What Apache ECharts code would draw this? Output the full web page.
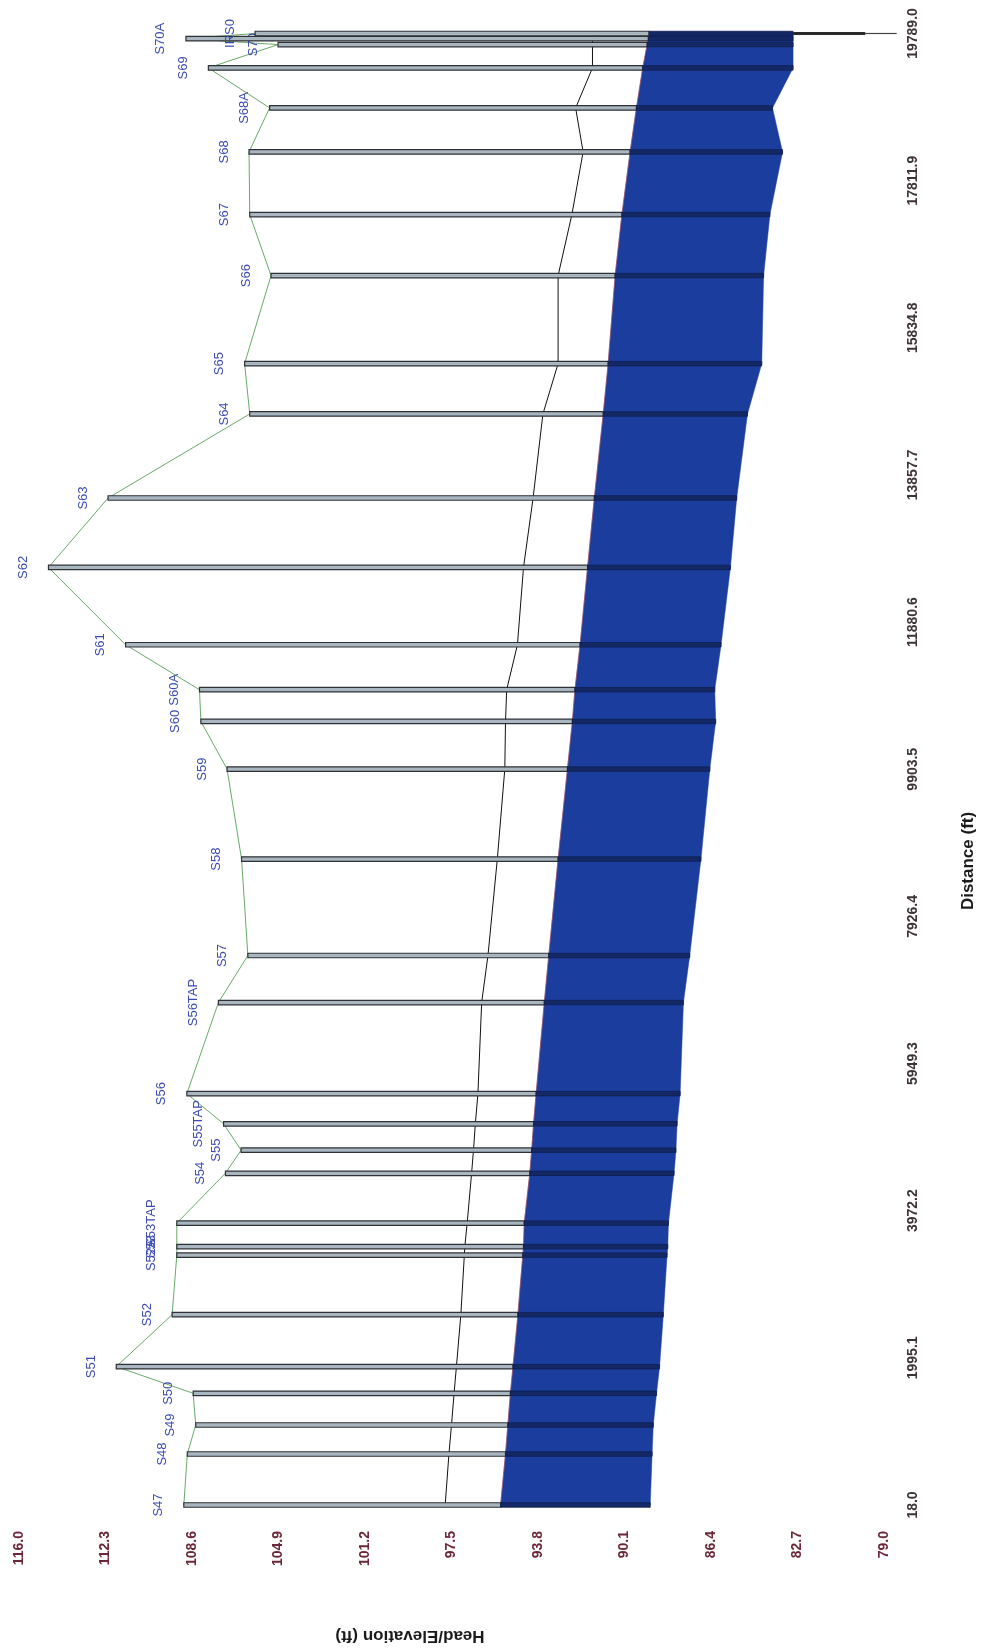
<!DOCTYPE html>
<html>
<head>
<meta charset="utf-8">
<title>Profile</title>
<script src="https://cdn.jsdelivr.net/npm/echarts@6.0.0/dist/echarts.min.js"></script>
<style>
  html, body { margin: 0; padding: 0; background: #fff; }
  #chart { width: 984px; height: 1650px; }
</style>
</head>
<body>
<div id="chart"></div>
<script>
// node data (distance in ft, elevations in ft)
const nodeNames = ['S47','S48','S49','S50','S51','S52','S52A','S53','S53TAP','S54','S55','S55TAP','S56','S56TAP','S57','S58','S59','S60','S60A','S61','S62','S63','S64','S65','S66','S67','S68','S68A','S69','S70','S70A','IRS0']
const nodeDistance = [18,703,1093,1519,1877,2575,3375,3490,3805,4475,4785,5140,5545,6769,7401,8696,9906,10546,10972,11576,12615,13548,14677,15353,16536,17356,18198,18789,19327,19640,19720,19789]
const groundElev = [108.95,108.8,108.44,108.55,111.84,109.45,109.25,109.25,109.25,107.17,106.5,107.25,108.82,107.47,106.21,106.48,107.1,108.22,108.28,111.44,114.74,112.19,106.13,106.35,105.22,106.13,106.16,105.28,107.9,104.92,108.86,105.9]
const crownElev = [95.4,95.19,95.09,94.98,94.87,94.66,94.45,94.42,94.39,94.15,94.07,93.99,93.88,93.53,93.34,92.94,92.54,92.33,92.22,92.0,91.68,91.39,91.01,90.8,90.5,90.21,89.86,89.59,89.32,89.13,89.08,89.05]
const invertElev = [89.0,88.92,88.87,88.73,88.6,88.44,88.28,88.25,88.22,87.98,87.9,87.85,87.72,87.58,87.31,86.83,86.45,86.2,86.24,85.97,85.57,85.3,84.84,84.23,84.15,83.88,83.34,83.77,82.89,82.89,82.89,82.89]
const hglElev = [97.77,97.61,97.5,97.39,97.29,97.1,96.95,96.93,96.83,96.64,96.56,96.48,96.37,96.21,95.94,95.54,95.22,95.19,95.14,94.68,94.42,94.01,93.59,92.94,92.94,92.35,91.87,92.19,91.47,91.47,91.47,91.47]
// outfall stem below the last node
const outfallBottom = 79.8
const outfallTail = 78.46

const distanceTicks = [18.0,1995.1,3972.2,5949.3,7926.4,9903.5,11880.6,13857.7,15834.8,17811.9,19789.0]
const elevationTicks = [79.0,82.7,86.4,90.1,93.8,97.5,101.2,104.9,108.6,112.3,116.0]

const FONT = "'Liberation Sans', Arial, sans-serif"

let myChart = echarts.init(document.getElementById('chart'))

// pipe segments between consecutive nodes
let pipeData = []
for (let i = 0; i < nodeDistance.length - 1; i++) {
  pipeData.push([crownElev[i], nodeDistance[i], invertElev[i], crownElev[i+1], nodeDistance[i+1], invertElev[i+1]])
}
let manholeData = nodeDistance.map((d, i) => [groundElev[i], d, crownElev[i], invertElev[i]])

myChart.setOption({
  backgroundColor: '#fff',
  animation: false,
  grid: { left: 19, right: 100, top: 33.5, bottom: 145 },
  // elevation runs horizontally (high on the left)
  xAxis: {
    type: 'value',
    min: 79,
    max: 116,
    inverse: true,
    axisLine: { show: false },
    axisTick: { show: false },
    splitLine: { show: false },
    axisLabel: {
      customValues: elevationTicks,
      showMinLabel: true,
      showMaxLabel: true,
      rotate: 90,
      margin: 26,
      color: '#6b2737',
      fontFamily: FONT,
      fontSize: 14,
      fontWeight: 'bold',
      formatter: v => v.toFixed(1)
    }
  },
  // distance runs vertically on the right
  yAxis: {
    type: 'value',
    position: 'right',
    min: 18,
    max: 19789,
    axisLine: { show: false },
    axisTick: { show: false },
    splitLine: { show: false },
    axisLabel: {
      customValues: distanceTicks,
      showMinLabel: true,
      showMaxLabel: true,
      rotate: 90,
      margin: 22,
      color: '#3d3333',
      fontFamily: FONT,
      fontSize: 14,
      fontWeight: 'bold',
      formatter: v => v.toFixed(1)
    }
  },
  graphic: [
    {
      type: 'text', x: 968, y: 861, rotation: Math.PI / 2,
      style: { text: 'Distance (ft)', fill: '#1a1a1a', font: 'bold 17px ' + FONT, align: 'center', verticalAlign: 'middle' }
    },
    {
      type: 'text', x: 410, y: 1636, rotation: Math.PI,
      style: { text: 'Head/Elevation (ft)', fill: '#1a1a1a', font: 'bold 17px ' + FONT, align: 'center', verticalAlign: 'middle' }
    }
  ],
  series: [
    {
      // blue pipe body
      type: 'custom',
      name: 'pipe',
      z: 1,
      data: pipeData,
      encode: { x: [0, 2, 3, 5], y: [1, 4] },
      renderItem: (params, api) => {
        let a = api.coord([api.value(0), api.value(1)])
        let b = api.coord([api.value(3), api.value(4)])
        let c = api.coord([api.value(5), api.value(4)])
        let d = api.coord([api.value(2), api.value(1)])
        return {
          type: 'polygon',
          shape: { points: [a, b, c, d] },
          style: { fill: '#1b3d9e', stroke: '#1b3d9e', lineWidth: 0.5 }
        }
      }
    },
    {
      // faint red edge along the crown
      type: 'line',
      name: 'crown',
      z: 2,
      symbol: 'none',
      data: nodeDistance.map((d, i) => [crownElev[i], d]),
      lineStyle: { color: '#c0505a', width: 1, opacity: 0.55 }
    },
    {
      type: 'line',
      name: 'HGL',
      z: 2,
      symbol: 'none',
      data: nodeDistance.map((d, i) => [hglElev[i], d]),
      lineStyle: { color: '#111', width: 1 }
    },
    {
      type: 'line',
      name: 'ground',
      z: 2,
      symbol: 'none',
      data: nodeDistance.map((d, i) => [groundElev[i], d]),
      lineStyle: { color: '#6aa86a', width: 1 }
    },
    {
      // manholes + node labels
      type: 'custom',
      name: 'manholes',
      z: 3,
      data: manholeData,
      encode: { x: [0, 2, 3], y: 1 },
      renderItem: (params, api) => {
        let i = params.dataIndex
        let g = api.coord([api.value(0), api.value(1)])
        let c = api.coord([api.value(2), api.value(1)])
        let v = api.coord([api.value(3), api.value(1)])
        let h = 4.5
        let kids = [
          {
            type: 'rect',
            shape: { x: g[0], y: g[1] - h / 2, width: c[0] - g[0], height: h },
            style: { fill: '#a9b6c0', stroke: '#2e3136', lineWidth: 1.2 }
          },
          {
            type: 'rect',
            shape: { x: c[0], y: c[1] - h / 2, width: v[0] - c[0], height: h },
            style: { fill: '#132865', stroke: '#0f1f50', lineWidth: 0.8 }
          },
          {
            type: 'text',
            x: g[0] - 25,
            y: g[1],
            rotation: Math.PI / 2,
            style: { text: nodeNames[i], fill: '#3a4ab0', font: '13px ' + FONT, align: 'center', verticalAlign: 'middle' }
          }
        ]
        if (i === nodeNames.length - 1) {
          let ob = api.coord([outfallBottom, api.value(1)])
          let ot = api.coord([outfallTail, api.value(1)])
          kids.push({
            type: 'line',
            shape: { x1: v[0], y1: v[1], x2: ob[0], y2: ob[1] },
            style: { stroke: '#2a2a2a', lineWidth: 3 }
          })
          kids.push({
            type: 'line',
            shape: { x1: ob[0], y1: ob[1], x2: ot[0], y2: ot[1] },
            style: { stroke: '#444', lineWidth: 1.2 }
          })
        }
        return { type: 'group', children: kids }
      }
    }
  ]
})
</script>
</body>
</html>
